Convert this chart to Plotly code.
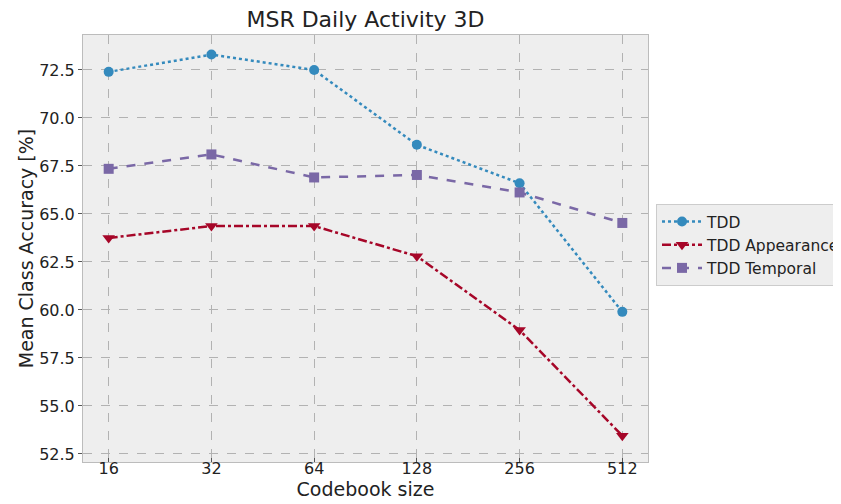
import plotly.graph_objects as go

codebook_sizes = ["16", "32", "64", "128", "256", "512"]
tdd = [72.4, 73.3, 72.5, 68.6, 66.6, 59.9]
tdd_appearance = [63.75, 64.37, 64.37, 62.8, 58.95, 53.45]
tdd_temporal = [67.35, 68.1, 66.9, 67.03, 66.12, 64.53]
y_ticks = [52.5, 55.0, 57.5, 60.0, 62.5, 65.0, 67.5, 70.0, 72.5]

fig = go.Figure()
fig.add_trace(go.Scatter(x=codebook_sizes, y=tdd, name="TDD", mode="lines+markers",
                         line=dict(color="#348ABD", width=2.5, dash="dot"),
                         marker=dict(symbol="circle", size=10, color="#348ABD")))
fig.add_trace(go.Scatter(x=codebook_sizes, y=tdd_appearance, name="TDD Appearance", mode="lines+markers",
                         line=dict(color="#A60628", width=2.5, dash="dashdot"),
                         marker=dict(symbol="triangle-down", size=11, color="#A60628")))
fig.add_trace(go.Scatter(x=codebook_sizes, y=tdd_temporal, name="TDD Temporal", mode="lines+markers",
                         line=dict(color="#7A68A6", width=2.5, dash="dash"),
                         marker=dict(symbol="square", size=10, color="#7A68A6")))

grid = dict(showgrid=True, gridcolor="#b2b2b2", griddash="dash", gridwidth=1,
            showline=True, linecolor="#bcbcbc", linewidth=1, mirror=True,
            ticklen=4, tickcolor="#555555", zeroline=False, automargin=False,
            tickfont=dict(size=16, color="#222222"))

# the page body adds an 8px offset, so margins are shifted to compensate
fig.update_layout(
    width=841, height=504,
    margin=dict(l=75, r=201, t=27, b=50),
    paper_bgcolor="white", plot_bgcolor="#eeeeee",
    font=dict(family="DejaVu Sans", color="#222222"),
    title=dict(text="MSR Daily Activity 3D", x=(365.5 - 8) / 841, xref="container", xanchor="center",
               y=1 - 4 / 504, yanchor="top", font=dict(size=22, color="#222222"),
               automargin=False),
    xaxis=dict(type="category", range=[-0.25, 5.25], ticks="inside", ticklabelstandoff=-8,
               title=dict(text="Codebook size", font=dict(size=19), standoff=3), **grid),
    yaxis=dict(range=[52.08, 74.32], tickvals=y_ticks, ticktext=[f"{v:.1f}" for v in y_ticks],
               ticks="outside",
               title=dict(text="Mean Class Accuracy [%]", font=dict(size=19), standoff=0), **grid),
    legend=dict(xref="container", yref="container", x=(656 - 8) / 841, y=1 - (245 - 8) / 504,
                xanchor="left", yanchor="middle",
                bgcolor="#eeeeee", bordercolor="#cccccc", borderwidth=1, itemwidth=40,
                font=dict(size=15.5, color="#222222"), tracegroupgap=0),
    showlegend=True,
)

fig.write_html("out.html")
